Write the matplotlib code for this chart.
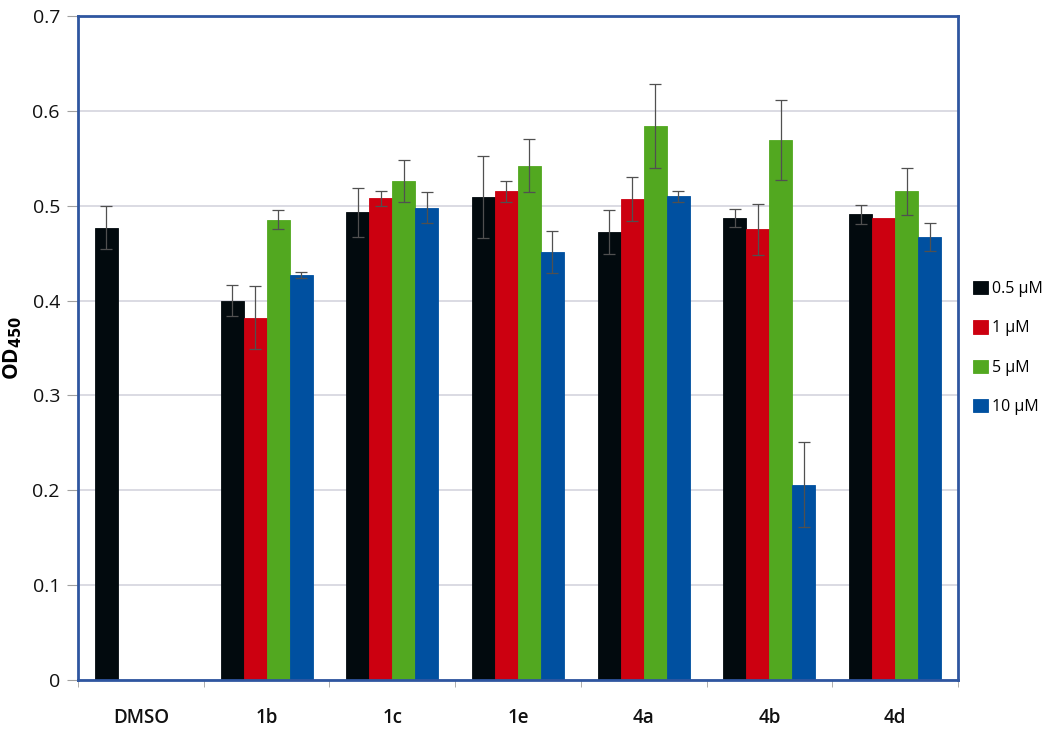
import matplotlib.pyplot as plt
import numpy as np

plt.rcParams['font.family'] = ['Open Sans', 'DejaVu Sans']

# Daten
groups = ['DMSO', '1b', '1c', '1e', '4a', '4b', '4d']
series = ['0.5 \u00b5M', '1 \u00b5M', '5 \u00b5M', '10 \u00b5M']
colors = ['#020a0e', '#cc0010', '#52a820', '#0050a0']

val_05 = [0.477, 0.400, 0.493, 0.509, 0.472, 0.487, 0.491]
val_1 = [np.nan, 0.382, 0.508, 0.515, 0.507, 0.475, 0.487]
val_5 = [np.nan, 0.485, 0.526, 0.542, 0.584, 0.569, 0.515]
val_10 = [np.nan, 0.427, 0.498, 0.451, 0.510, 0.206, 0.467]

err_05 = [0.023, 0.016, 0.026, 0.043, 0.023, 0.009, 0.010]
err_1 = [0, 0.033, 0.008, 0.011, 0.023, 0.027, 0.0]
err_5 = [0, 0.010, 0.022, 0.028, 0.044, 0.042, 0.025]
err_10 = [0, 0.003, 0.016, 0.022, 0.006, 0.045, 0.015]

values = [val_05, val_1, val_5, val_10]
errors = [err_05, err_1, err_5, err_10]

fig = plt.figure(figsize=(10.5, 7.4), dpi=100)
ax = fig.add_axes([0.0743, 0.0811, 0.838, 0.8973])

x = np.arange(len(groups))
w = 0.183
for i in range(4):
    pos = x + (i - 1.5) * w
    ax.bar(pos, values[i], w, color=colors[i], edgecolor=colors[i],
           linewidth=0.6, label=series[i], zorder=2)
    v = np.array(values[i])
    e = np.array(errors[i])
    ok = ~np.isnan(v) & (e > 0)
    ax.errorbar(pos[ok], v[ok], yerr=e[ok], fmt='none', ecolor='#505050',
                elinewidth=0.9, capsize=4, capthick=0.9, zorder=3)

ax.set_xlim(-0.5, len(groups) - 0.5)
ax.set_ylim(0, 0.7)
ax.set_yticks(np.arange(0, 0.71, 0.1))
ax.set_yticklabels(['0', '0.1', '0.2', '0.3', '0.4', '0.5', '0.6', '0.7'],
                   fontsize=14, color='#111111')
ax.set_xticks(x)
ax.set_xticklabels(groups, fontsize=13.5, fontweight='semibold', color='#111111')
ax.set_xticks(np.arange(-0.5, len(groups)), minor=True)
ax.tick_params(axis='x', which='major', length=0, pad=20)
ax.tick_params(axis='x', which='minor', length=5, color='#a0a0a0', direction='out')
ax.tick_params(axis='y', length=8, color='#a0a0a0', direction='out', pad=5)

ax.yaxis.grid(True, color='#d4d4de', linewidth=1.2, zorder=0)
ax.set_axisbelow(True)

for s in ax.spines.values():
    s.set_color('#2f56a0')
    s.set_linewidth(2)

ax.set_ylabel('OD$_{\\mathbf{450}}$', fontsize=15, fontweight='bold', labelpad=6)

ax.legend(loc='center left', bbox_to_anchor=(1.005, 0.5), frameon=False,
          fontsize=11.5, handlelength=0.9, handleheight=0.9, handletextpad=0.25,
          labelspacing=1.45, borderaxespad=0.3)

fig.savefig('out.png', dpi=100)
